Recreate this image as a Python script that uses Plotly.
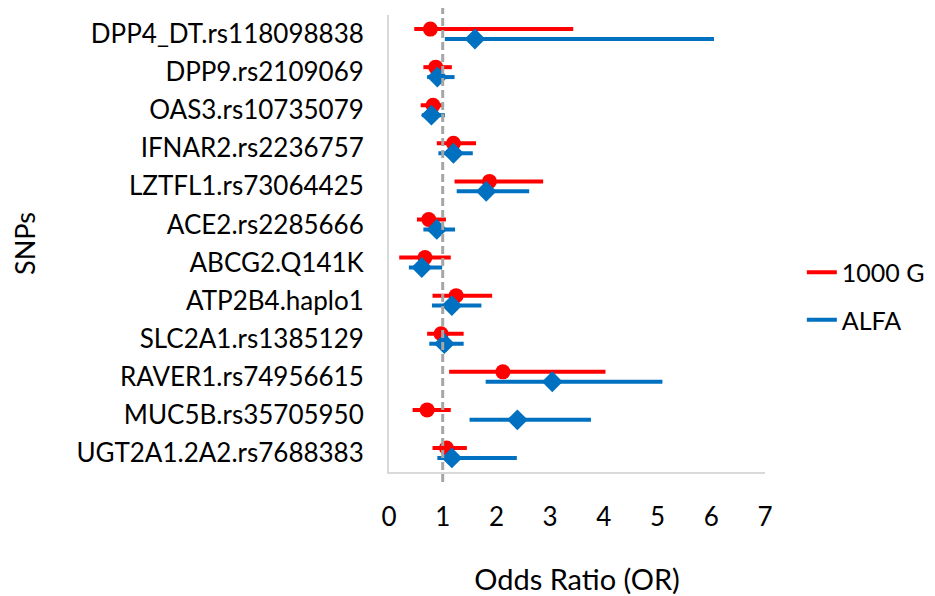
import plotly.graph_objects as go

snps = ["DPP4_DT.rs118098838", "DPP9.rs2109069", "OAS3.rs10735079", "IFNAR2.rs2236757",
        "LZTFL1.rs73064425", "ACE2.rs2285666", "ABCG2.Q141K", "ATP2B4.haplo1",
        "SLC2A1.rs1385129", "RAVER1.rs74956615", "MUC5B.rs35705950", "UGT2A1.2A2.rs7688383"]

or_1000g = [0.77, 0.87, 0.82, 1.20, 1.87, 0.74, 0.67, 1.25, 0.97, 2.12, 0.71, 1.07]
lo_1000g = [0.47, 0.64, 0.59, 0.89, 1.22, 0.52, 0.19, 0.81, 0.71, 1.12, 0.44, 0.81]
hi_1000g = [3.43, 1.17, 1.00, 1.62, 2.87, 1.06, 1.15, 1.92, 1.39, 4.03, 1.15, 1.45]

or_alfa = [1.60, 0.90, 0.79, 1.20, 1.81, 0.89, 0.61, 1.17, 1.03, 3.04, 2.39, 1.17]
lo_alfa = [1.04, 0.71, 0.61, 0.92, 1.26, 0.64, 0.37, 0.80, 0.75, 1.80, 1.50, 0.90]
hi_alfa = [6.05, 1.22, 1.04, 1.56, 2.61, 1.23, 0.99, 1.72, 1.39, 5.09, 3.76, 2.38]

x_ticks = [0, 1, 2, 3, 4, 5, 6, 7]

RED = "#ff0000"
BLUE = "#0070c0"
FONT = "Lato"
OFFSET = 0.13

fig = go.Figure()


def add_series(name, ors, los, his, color, symbol, off):
    ys = [i + off for i in range(len(snps))]
    lx, ly = [], []
    for lo, hi, y in zip(los, his, ys):
        lx += [lo, hi, None]
        ly += [y, y, None]
    fig.add_trace(go.Scatter(x=lx, y=ly, mode="lines", line=dict(color=color, width=4),
                             showlegend=False, hoverinfo="skip"))
    fig.add_trace(go.Scatter(x=ors, y=ys, mode="markers", name=name,
                             marker=dict(color=color, size=15 if symbol == "circle" else 16,
                                         symbol=symbol, line=dict(width=0)),
                             showlegend=False))
    fig.add_trace(go.Scatter(x=[None], y=[None], mode="lines", name=name,
                             line=dict(color=color, width=4), legendgroup=name,
                             showlegend=True))


add_series("1000 G", or_1000g, lo_1000g, hi_1000g, RED, "circle", -OFFSET)
add_series("ALFA", or_alfa, lo_alfa, hi_alfa, BLUE, "diamond", OFFSET)

fig.add_shape(type="line", xref="x", yref="paper", x0=1, x1=1, y0=-0.022, y1=1.022,
              line=dict(color="#a6a6a6", width=3, dash="8px,4px"), layer="above")

# page body has an 8px default margin, so the figure is sized to fit the window
fig.update_layout(
    width=927, height=588,
    paper_bgcolor="white", plot_bgcolor="white",
    margin=dict(l=381, r=170, t=7, b=124, autoexpand=False),
    font=dict(family=FONT, size=26, color="#000000"),
    legend=dict(x=1.098, xanchor="left", y=0.385, yanchor="middle",
                font=dict(family=FONT, size=25, color="#000000"),
                tracegroupgap=12, itemwidth=30, bgcolor="rgba(0,0,0,0)"),
    xaxis=dict(range=[0, 7], tickvals=x_ticks, ticktext=[str(t) for t in x_ticks],
               showline=True, linecolor="#d9d9d9", linewidth=2, showgrid=False,
               zeroline=False, ticks="", ticklabelstandoff=21, automargin=False,
               tickfont=dict(family=FONT, size=26),
               title=dict(text="Odds Ratio (OR)", standoff=38,
                          font=dict(family=FONT, size=29))),
    yaxis=dict(range=[11.5, -0.5], tickvals=list(range(len(snps))), ticktext=snps,
               showline=True, linecolor="#d9d9d9", linewidth=2, showgrid=False,
               zeroline=False, ticks="", ticklabelstandoff=18, automargin=True,
               tickfont=dict(family=FONT, size=26),
               title=dict(text="SNPs", standoff=34, font=dict(family=FONT, size=27))),
)

fig.write_html("out.html")
